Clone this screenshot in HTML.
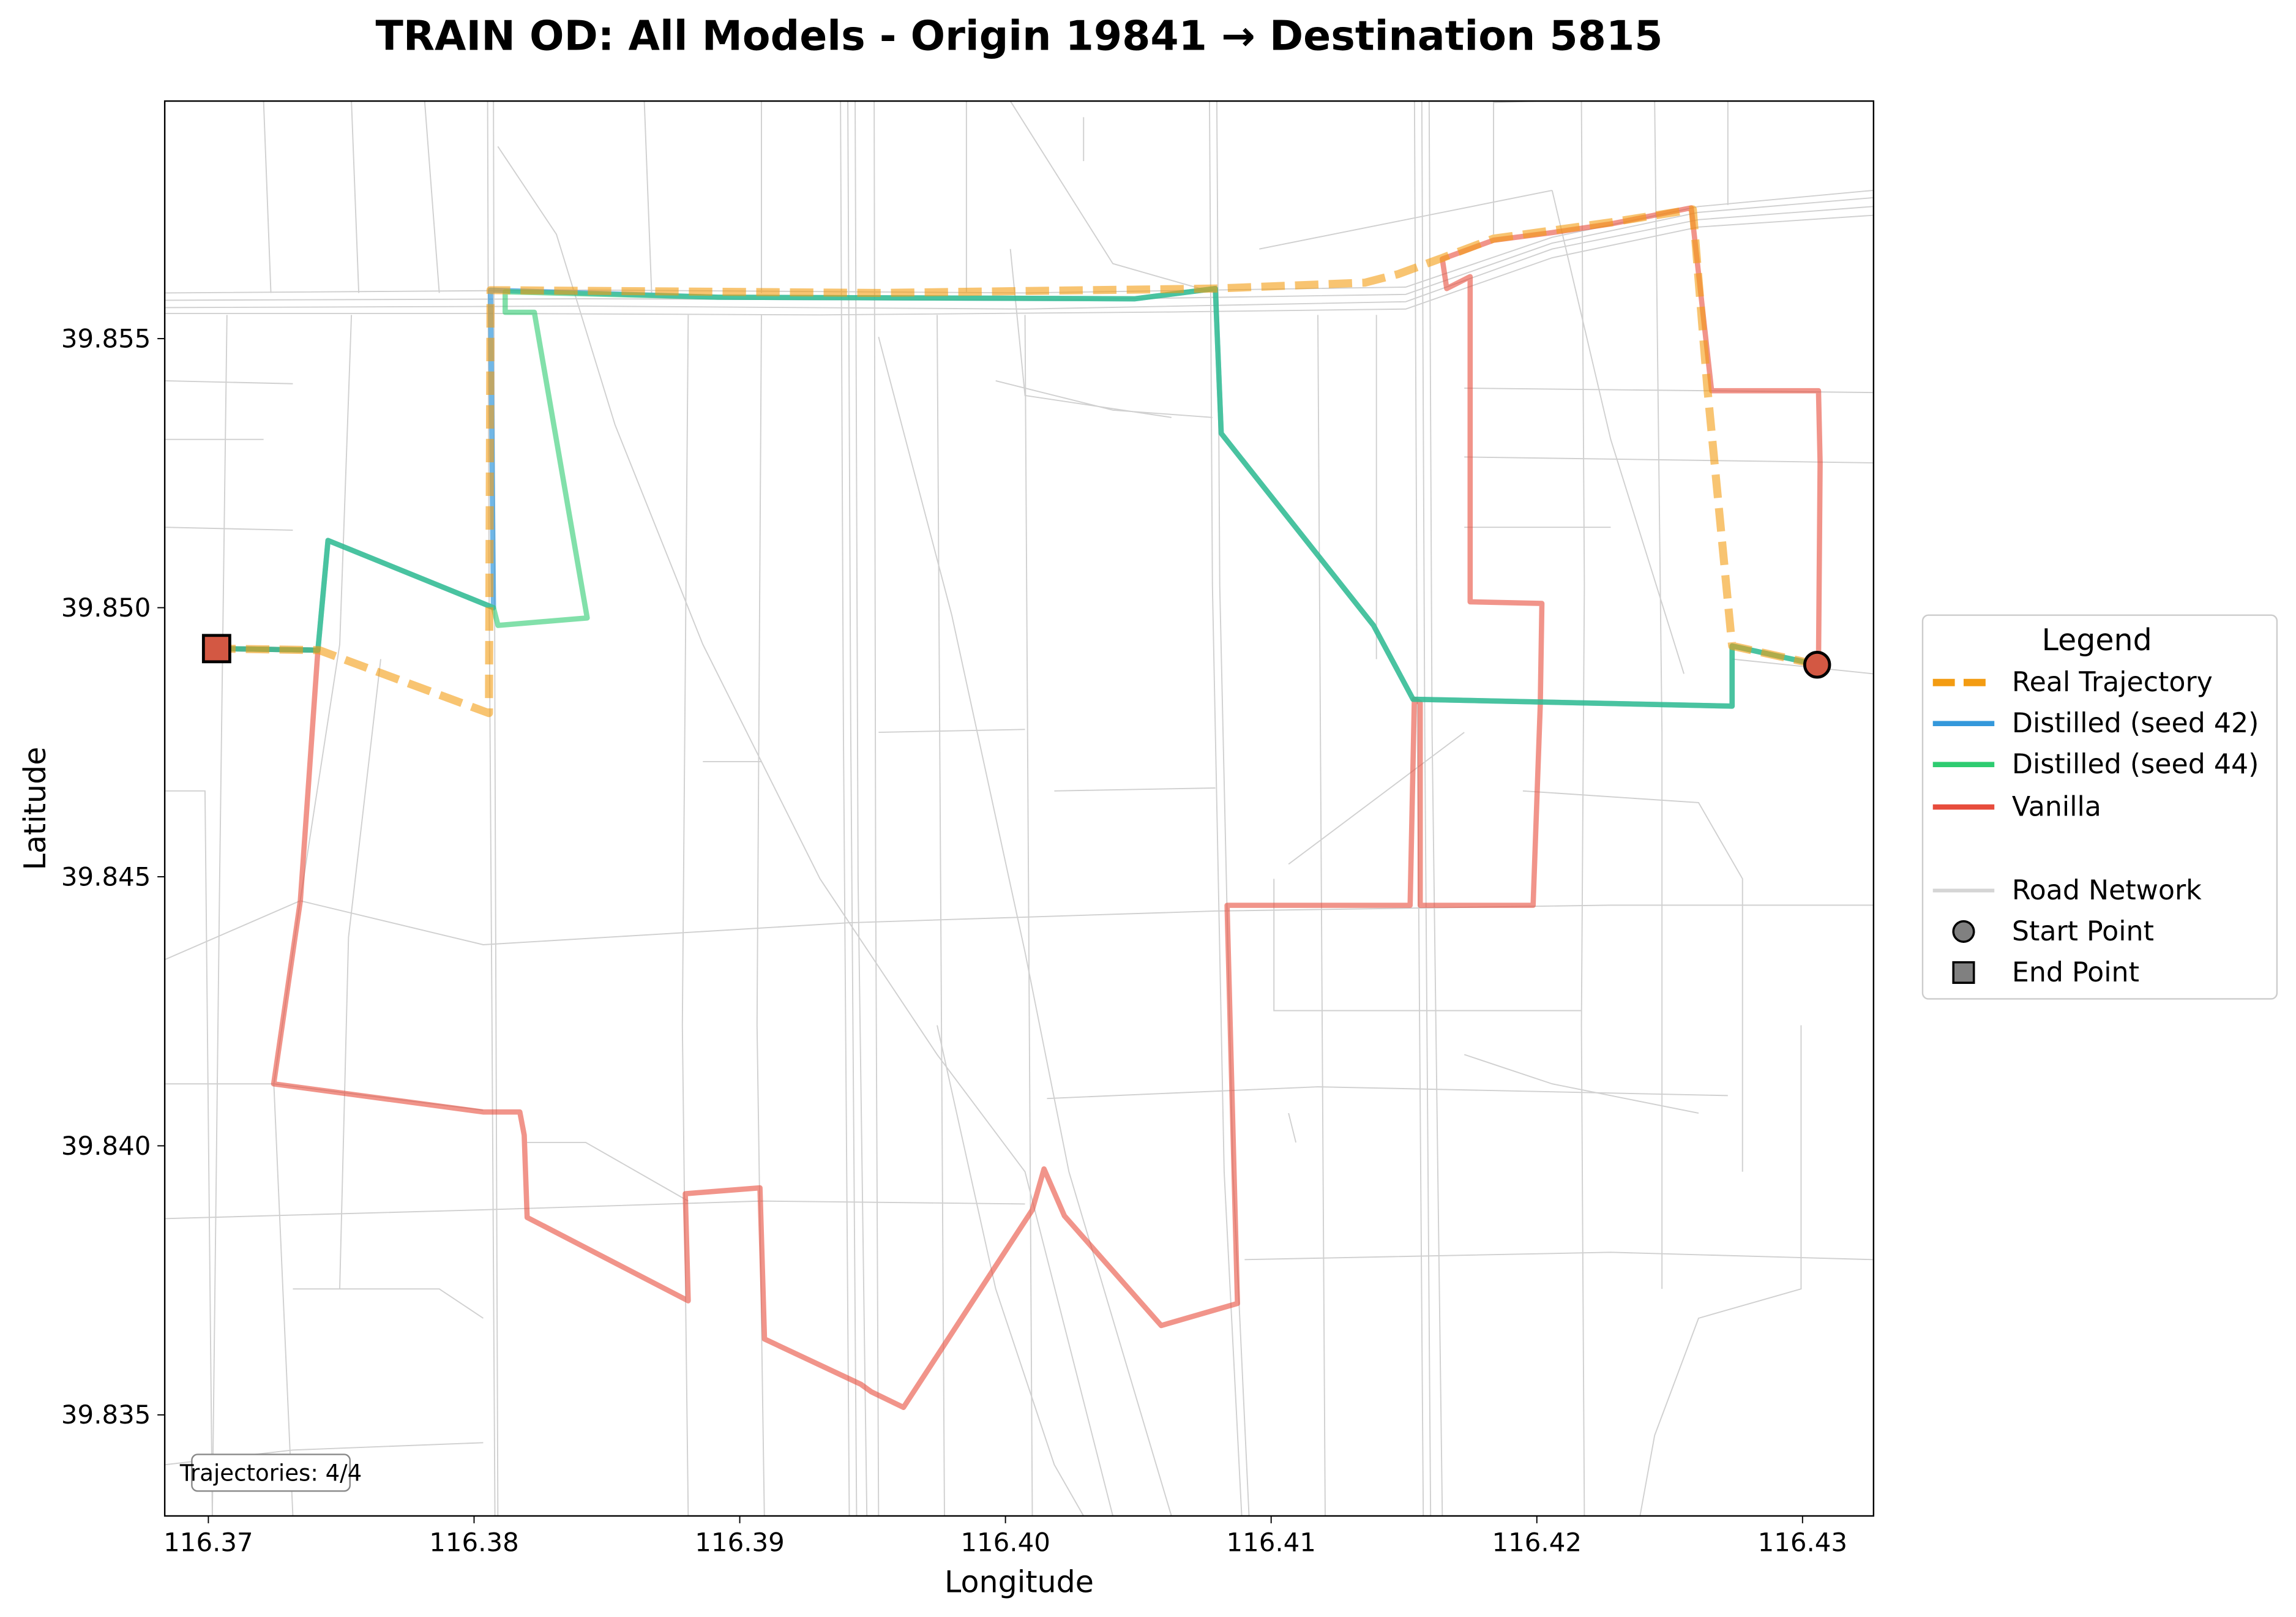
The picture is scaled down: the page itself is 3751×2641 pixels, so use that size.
<!DOCTYPE html>
<html><head><meta charset="utf-8">
<style>
html,body{margin:0;padding:0;background:#fff;}
svg{display:block;font-family:"DejaVu Sans","Liberation Sans",sans-serif;}
</style></head>
<body>
<svg id="chart" width="3751" height="2641" viewBox="0 0 1568 1104" xmlns="http://www.w3.org/2000/svg">
<rect x="0" y="0" width="1568" height="1104" fill="#fff"/>
<text x="696" y="34" text-anchor="middle" font-size="27.8" font-weight="bold">TRAIN OD: All Models - Origin 19841 → Destination 5815</text>
<defs><clipPath id="plotclip"><rect x="112.5" y="69" width="1167" height="966"/></clipPath></defs>
<g id="roads" clip-path="url(#plotclip)" fill="none" stroke="#d0d0d0" stroke-width="0.8"></g>
<g id="traj" clip-path="url(#plotclip)" fill="none" stroke-linejoin="round" stroke-linecap="round"></g>
<rect x="112.5" y="69" width="1167" height="966" fill="none" stroke="#000" stroke-width="1"/>
<g id="xticks"></g><g id="yticks"></g>
<text x="696" y="1087" text-anchor="middle" font-size="20.5">Longitude</text>
<text x="31" y="552" text-anchor="middle" font-size="20.5" transform="rotate(-90 31 552)">Latitude</text>
<g>
<rect x="131" y="993" width="108" height="25" rx="4" fill="#fff" stroke="#888" stroke-width="1"/>
<text x="185" y="1011" text-anchor="middle" font-size="15.5">Trajectories: 4/4</text>
</g>
<g>
<rect x="1313" y="420" width="242" height="262" rx="4" fill="#fff" stroke="#ccc" stroke-width="1"/>
<text x="1432" y="444" text-anchor="middle" font-size="20.5">Legend</text>
<g><line x1="1320" y1="466" x2="1362" y2="466" stroke="#f39c12" stroke-width="5" stroke-dasharray="15,6"/><text x="1374" y="472" font-size="18.5">Real Trajectory</text></g>
<g><line x1="1320" y1="494" x2="1362" y2="494" stroke="#3498db" stroke-width="3.6"/><text x="1374" y="500" font-size="18.5">Distilled (seed 42)</text></g>
<g><line x1="1320" y1="522" x2="1362" y2="522" stroke="#2ecc71" stroke-width="3.6"/><text x="1374" y="528" font-size="18.5">Distilled (seed 44)</text></g>
<g><line x1="1320" y1="551" x2="1362" y2="551" stroke="#e74c3c" stroke-width="3.6"/><text x="1374" y="557" font-size="18.5">Vanilla</text></g>
<g><line x1="1320" y1="608" x2="1362" y2="608" stroke="#d5d5d5" stroke-width="2.5"/><text x="1374" y="614" font-size="18.5">Road Network</text></g>
<g><circle cx="1341" cy="636" r="7" fill="#808080" stroke="#000" stroke-width="1.5"/><text x="1374" y="642" font-size="18.5">Start Point</text></g>
<g><rect x="1334" y="657" width="14" height="14" fill="#808080" stroke="#000" stroke-width="1.5"/><text x="1374" y="670" font-size="18.5">End Point</text></g>
</g>
</svg>
<script>
// ---- data ----
const xTicks = [116.37,116.38,116.39,116.40,116.41,116.42,116.43];
const xTickLabels = ["116.37","116.38","116.39","116.40","116.41","116.42","116.43"];
const yTicks = [39.835,39.840,39.845,39.850,39.855];
const yTickLabels = ["39.835","39.840","39.845","39.850","39.855"];

const realLon = [116.43055,116.42735,116.42642,116.42587,116.42278,116.41837,116.41644,116.41479,116.41352,116.4079,116.39522,116.38062,116.38056,116.37417,116.37031];
const realLat = [39.84894,39.84929,39.85408,39.8574,39.85716,39.85686,39.8565,39.8562,39.85604,39.85593,39.85585,39.8559,39.84804,39.84921,39.84924];

const seed42Lon = [116.43055,116.42735,116.42735,116.41534,116.41385,116.40812,116.4079,116.40487,116.38916,116.38062,116.38073,116.3745,116.37412,116.37031];
const seed42Lat = [39.84894,39.84929,39.84817,39.8483,39.84967,39.85324,39.85593,39.85574,39.85577,39.8559,39.85,39.85125,39.84921,39.84924];

const seed44Lon = [116.43055,116.42735,116.42735,116.41534,116.41385,116.40812,116.4079,116.40487,116.38916,116.38117,116.38117,116.38227,116.38426,116.3809,116.38073,116.3745,116.37412,116.37031];
const seed44Lat = [39.84894,39.84929,39.84817,39.8483,39.84967,39.85324,39.85593,39.85574,39.85577,39.85587,39.85549,39.85549,39.84981,39.84967,39.85,39.85125,39.84921,39.84924];

const vanillaLon = [116.4306,116.43066,116.4306,116.42658,116.42581,116.42278,116.42058,116.41837,116.41644,116.41661,116.41749,116.41749,116.42019,116.42013,116.41986,116.41561,116.41561,116.41539,116.41523,116.40834,116.40873,116.40586,116.40222,116.40145,116.40101,116.39616,116.39495,116.39456,116.39093,116.39076,116.38795,116.38806,116.382,116.38189,116.38172,116.38034,116.37246,116.37346,116.37412,116.37031];
const vanillaLat = [39.84894,39.85269,39.85403,39.85403,39.85743,39.85713,39.85697,39.85683,39.85648,39.85593,39.85615,39.85011,39.85008,39.8482,39.84447,39.84447,39.84823,39.8483,39.84447,39.84447,39.83707,39.83666,39.8387,39.83957,39.83881,39.83514,39.83543,39.83557,39.83641,39.83922,39.83911,39.83712,39.83867,39.8402,39.84063,39.84063,39.84115,39.84455,39.84921,39.84924];

const startLonLat = [116.43055,39.84894];
const endLonLat = [116.37031,39.84924];

// ---- axes ----
const X0 = 142.3, XPER = 18145;
const Y0 = 414.9, YPER = 36740;
function sx(lon){ return X0 + (lon - 116.37) * XPER; }
function sy(lat){ return Y0 - (lat - 39.85) * YPER; }
const NS = "http://www.w3.org/2000/svg";
function mk(tag, attrs, parent){ const e=document.createElementNS(NS,tag); for(const k in attrs) e.setAttribute(k,attrs[k]); parent.appendChild(e); return e; }

const xg = document.getElementById('xticks');
xTicks.forEach((v,i)=>{
  const g = mk('g',{},xg);
  
  
  const x = sx(v);
  mk('line',{x1:x,y1:1035,x2:x,y2:1040,stroke:'#000','stroke-width':0.8},g);
  const t = mk('text',{x:x,y:1059,'text-anchor':'middle','font-size':17.5},g);
  t.textContent = xTickLabels[i];
});
const yg = document.getElementById('yticks');
yTicks.forEach((v,i)=>{
  const g = mk('g',{},yg);
  
  
  const y = sy(v);
  mk('line',{x1:107.5,y1:y,x2:112.5,y2:y,stroke:'#000','stroke-width':0.8},g);
  const t = mk('text',{x:103,y:y+6,'text-anchor':'end','font-size':17.5},g);
  t.textContent = yTickLabels[i];
});

// ---- road network (background decoration, display px) ----
const roads = [
 [[113,200],[400,198],[700,200],[960,196],[1060,162],[1160,141],[1279,130]],
 [[113,205],[400,204],[700,205],[960,201],[1060,166],[1160,145],[1279,135]],
 [[113,210],[400,209],[700,211],[960,206],[1060,170],[1160,150],[1279,141]],
 [[113,214],[330,214],[560,215],[800,213],[960,211],[1060,176],[1160,155],[1279,147]],
 [[333,69],[334,400],[336,700],[338,1035]],[[337,69],[338,500],[340,1035]],
 [[574,69],[576,500],[580,1035]],[[579,69],[581,500],[585,1035]],[[584,69],[586,600],[592,1035]],[[597,69],[598,600],[600,1035]],
 [[826,69],[828,400],[836,800],[848,1035]],[[831,69],[833,400],[842,800],[853,1035]],
 [[966,69],[968,500],[972,1035]],[[971,69],[973,500],[977,1035]],[[976,69],[978,500],[985,1035]],
 [[113,655],[205,615],[330,645],[580,630],[830,622],[1100,618],[1279,618]],
 [[113,740],[187,740],[330,758]],[[715,750],[900,742],[1180,748]],
 [[113,832],[330,826],[520,820],[700,822]],[[850,860],[950,858],[1100,855],[1279,860]],
 [[340,100],[380,160],[420,290],[480,440],[560,600],[640,720],[700,800],[760,1035]],
 [[600,230],[650,420],[700,650],[730,800],[800,1035]],
 [[690,69],[760,180],[830,200]],[[640,700],[680,880],[720,1000],[740,1035]],
 [[113,540],[140,540],[145,1035]],[[155,215],[150,600],[145,1035]],
 [[240,215],[232,440],[205,615],[187,740],[200,1035]],
 [[260,450],[238,640],[232,880]],[[470,215],[466,700],[470,1035]],
 [[520,215],[517,700],[522,1035]],[[640,215],[645,1035]],
 [[700,215],[705,1035]],[[900,215],[905,1035]],[[940,215],[940,450]],
 [[1080,69],[1082,400],[1080,700],[1082,1035]],[[1130,69],[1135,500],[1135,880]],
 [[1000,265],[1279,268]],[[1000,312],[1279,316]],[[1183,450],[1279,460]],
 [[870,600],[870,690],[1080,690]],[[1040,540],[1160,548],[1190,600],[1190,800]],
 [[1230,700],[1230,880],[1160,900],[1130,980],[1120,1035]],
 [[200,880],[300,880],[330,900]],[[113,1000],[200,990],[330,985]],
 [[240,69],[245,200]],[[180,69],[185,200]],[[290,69],[300,200]],[[440,69],[445,200]],
 [[520,69],[520,200]],[[660,69],[660,200]],[[1020,69],[1020,160]],[[1180,69],[1180,140]],
 [[113,260],[200,262]],[[113,300],[180,300]],[[113,360],[200,362]],
 [[600,500],[700,498]],[[720,540],[830,538]],[[1000,360],[1100,360]],
 [[880,760],[885,780]],[[360,780],[400,780],[470,820]],
 [[680,260],[760,280],[828,285]],[[860,170],[1060,130]],[[1060,130],[1100,300],[1150,460]],
 [[880,590],[1000,500]],[[1000,720],[1060,740],[1160,760]],[[480,520],[520,520]],
 [[1020,70],[1080,68]],[[690,170],[700,270],[800,285]],[[740,80],[740,110]]
];
const rg = document.getElementById('roads');
roads.forEach((r,i)=>{
  const p = mk('polyline',{points:r.map(q=>q.join(',')).join(' ')},rg);
  
  
});

// ---- trajectories ----
const tg = document.getElementById('traj');
function path(lons,lats){ return lons.map((v,i)=>sx(v).toFixed(1)+','+sy(lats[i]).toFixed(1)).join(' '); }

const pv = mk('polyline',{points:path(vanillaLon,vanillaLat),stroke:'#e74c3c','stroke-width':3.6,'stroke-opacity':0.6},tg);



const p42 = mk('polyline',{points:path(seed42Lon,seed42Lat),stroke:'#3498db','stroke-width':3.6,'stroke-opacity':0.7},tg);



const p44 = mk('polyline',{points:path(seed44Lon,seed44Lat),stroke:'#2ecc71','stroke-width':3.6,'stroke-opacity':0.6},tg);



const pr = mk('polyline',{points:path(realLon,realLat),stroke:'#f39c12','stroke-width':5.5,'stroke-opacity':0.6,'stroke-dasharray':'16,7','stroke-linecap':'butt'},tg);



const sc = mk('circle',{cx:sx(startLonLat[0]),cy:sy(startLonLat[1]),r:8.5,fill:'#d35843',stroke:'#000','stroke-width':2},document.getElementById('chart'));


const ec = mk('rect',{x:sx(endLonLat[0])-9,y:sy(endLonLat[1])-9,width:18,height:18,fill:'#d35843',stroke:'#000','stroke-width':2},document.getElementById('chart'));


</script>
</body></html>
